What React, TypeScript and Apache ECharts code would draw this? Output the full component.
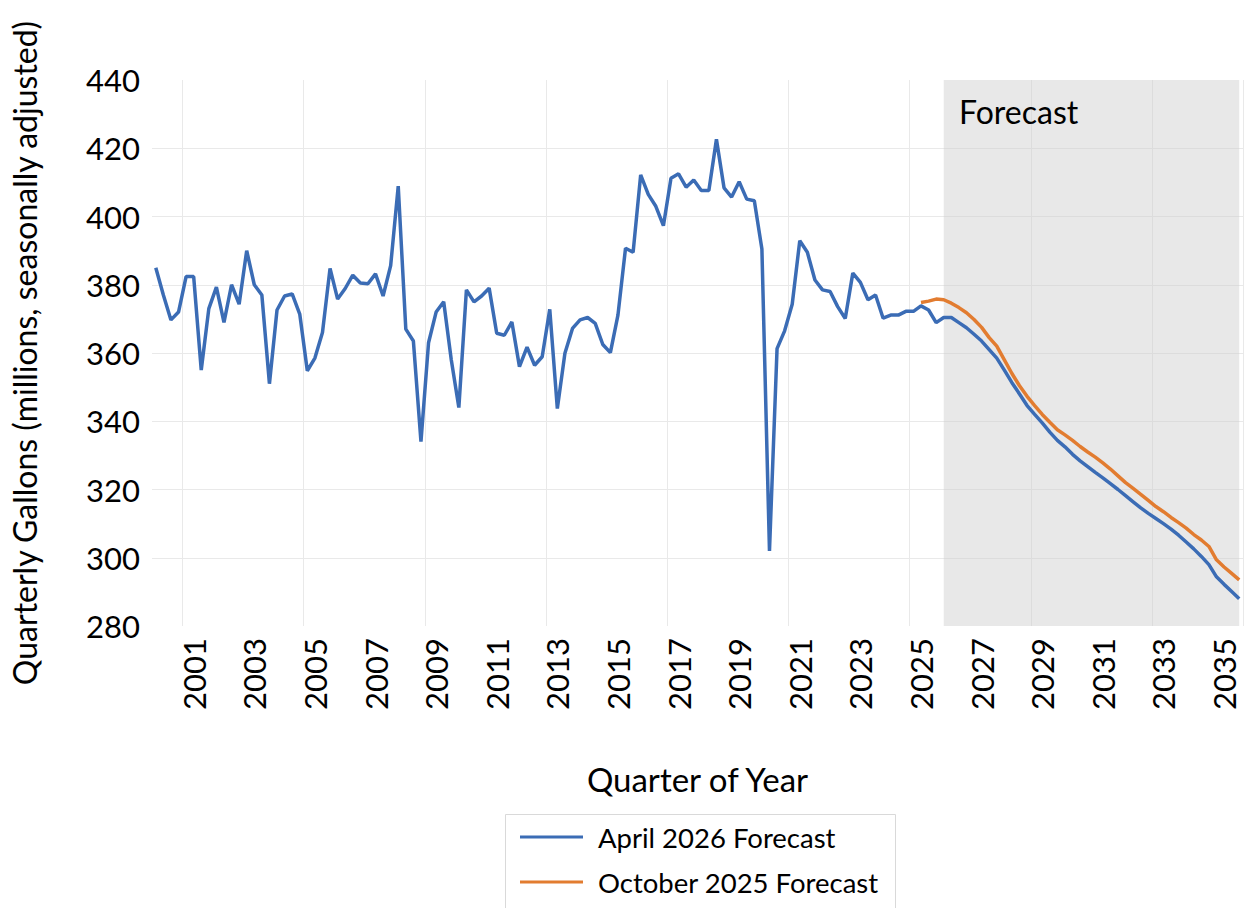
import React, { useEffect, useRef } from "react";
import * as echarts from "echarts";

const FONT = "Lato, 'Open Sans', sans-serif";

const firstYear = 2000;
const lastYear = 2035;
const quarters: string[] = [];
for (let y = firstYear; y <= lastYear; y++) {
  for (let q = 1; q <= 4; q++) quarters.push(`${y} Q${q}`);
}

// April 2026 Forecast (history + forecast), 2000 Q1 .. 2035 Q4
const april2026: number[] = [
  385, 377, 369.7, 372, 382.4, 382.4, 355, 373, 379.3, 369,
  380, 374.3, 390, 380, 377, 351, 372.6, 376.7, 377.3, 371.4,
  354.8, 358.5, 366, 384.8, 375.8, 378.9, 382.8, 380.5, 380.3, 383.2,
  376.7, 385.6, 408.9, 367, 363.5, 334, 363, 372, 375, 358,
  344, 378.5, 375, 376.7, 379, 365.8, 365.2, 369.1, 356, 361.7,
  356.4, 358.9, 372.8, 343.7, 359.9, 367.2, 369.7, 370.4, 368.7, 362.5,
  360.1, 371.1, 390.7, 389.5, 412.2, 406.5, 403, 397.3, 411.2, 412.5,
  408.6, 410.7, 407.6, 407.6, 422.6, 408.4, 405.7, 410.2, 405.1, 404.6,
  390.5, 302, 361.3, 366.5, 374.3, 392.9, 389.5, 381.4, 378.5, 378,
  373.6, 370.1, 383.4, 380.7, 375.6, 377, 370.2, 371.1, 371.1, 372.2,
  372.2, 373.8, 372.6, 368.9, 370.4, 370.4, 368.9, 367.4, 365.5, 363.5,
  361.0, 358.5, 355.0, 351.3, 348.0, 344.6, 342.0, 339.5, 336.8, 334.4,
  332.5, 330.3, 328.4, 326.7, 325.0, 323.4, 321.7, 320.0, 318.2, 316.4,
  314.6, 313.0, 311.5, 310.0, 308.4, 306.6, 304.6, 302.6, 300.4, 298.0,
  294.4, 292.2, 290.1, 288.0,
];

// October 2025 Forecast, starting at 2025 Q2
const october2025Start = "2025 Q2";
const october2025: number[] = [
  374.8, 375.2, 375.8, 375.6, 374.6, 373.3, 371.8, 369.8, 367.5, 364.5,
  362.0, 358.0, 354.0, 350.4, 347.3, 344.6, 342.0, 339.7, 337.5, 336.0,
  334.4, 332.6, 331.0, 329.5, 327.8, 326.0, 324.0, 322.0, 320.3, 318.6,
  316.8, 315.0, 313.5, 311.8, 310.3, 308.7, 306.8, 305.2, 303.3, 299.4,
  297.3, 295.4, 293.5,
];

const forecastStart = "2026 Q1";
const forecastEnd = "2035 Q4";

const seriesNames = ["April 2026 Forecast", "October 2025 Forecast"];
const colors = ["#3b6cb5", "#e27c30"];

export default function App() {
  const ref = useRef<HTMLDivElement>(null);
  useEffect(() => {
    if (!ref.current) return;
    const chart = echarts.init(ref.current, null, { renderer: "svg" });
    const startIdx = quarters.indexOf(october2025Start);
    const octData: (number | null)[] = quarters.map((_, i) =>
      i >= startIdx && i - startIdx < october2025.length ? october2025[i - startIdx] : null
    );
    chart.setOption({
      animation: false,
      backgroundColor: "#ffffff",
      textStyle: { fontFamily: FONT },
      grid: {
        left: 152,
        right: 2,
        top: 80,
        bottom: 282,
        containLabel: false,
        outerBoundsMode: "none",
      },
      xAxis: {
        type: "category",
        data: quarters,
        boundaryGap: true,
        name: "Quarter of Year",
        nameLocation: "middle",
        nameGap: 136,
        nameTextStyle: { fontSize: 33, color: "#000", fontFamily: FONT },
        axisLine: { show: false },
        axisTick: { show: false },
        axisLabel: {
          rotate: 90,
          margin: 12,
          fontSize: 31,
          color: "#000",
          fontFamily: FONT,
          interval: (i: number) => i % 8 === 5,
          formatter: (v: string) => v.slice(0, 4),
        },
        splitLine: {
          show: true,
          interval: (i: number) => i % 16 === 4,
          lineStyle: { color: "#e9e9e9", width: 1 },
        },
      },
      yAxis: {
        type: "value",
        min: 280,
        max: 440,
        interval: 20,
        name: "Quarterly Gallons (millions, seasonally adjusted)",
        nameLocation: "middle",
        nameGap: 112,
        nameTextStyle: { fontSize: 32, color: "#000", fontFamily: FONT },
        axisLine: { show: false },
        axisTick: { show: false },
        axisLabel: { fontSize: 31, color: "#000", margin: 12, fontFamily: FONT },
        splitLine: {
          show: true,
          showMinLine: false,
          showMaxLine: false,
          lineStyle: { color: "#e9e9e9", width: 1 },
        },
      },
      legend: {
        orient: "vertical",
        left: 503,
        top: 812,
        data: seriesNames,
        icon: "rect",
        itemWidth: 63,
        itemHeight: 3,
        itemGap: 15,
        padding: [10, 17, 0, 17],
        textStyle: { fontSize: 27.5, color: "#000", lineHeight: 30, padding: [0, 0, 0, 10], fontFamily: FONT },
      },
      graphic: [
        {
          type: "rect",
          left: 503,
          top: 812,
          shape: { width: 390, height: 120 },
          style: { fill: "none", stroke: "#d9d9d9", lineWidth: 1 },
          silent: true,
        },
        {
          type: "text",
          left: 959,
          top: 95,
          style: { text: "Forecast", fontSize: 32, fill: "#000", fontFamily: FONT },
          z: 10,
        },
      ],
      series: [
        {
          name: seriesNames[0],
          type: "line",
          data: april2026,
          showSymbol: false,
          symbol: "none",
          lineStyle: { color: colors[0], width: 3.5 },
          itemStyle: { color: colors[0] },
          z: 3,
          markArea: {
            silent: true,
            itemStyle: { color: "rgba(205,205,205,0.45)" },
            data: [[{ xAxis: forecastStart }, { xAxis: forecastEnd }]],
          },
        },
        {
          name: seriesNames[1],
          type: "line",
          data: octData,
          showSymbol: false,
          symbol: "none",
          lineStyle: { color: colors[1], width: 3.5 },
          itemStyle: { color: colors[1] },
          z: 2,
        },
      ],
    });
    return () => chart.dispose();
  }, []);
  return (
    <div
      ref={ref}
      style={{ position: "fixed", left: 0, top: 0, width: 1245, height: 908 }}
    />
  );
}
